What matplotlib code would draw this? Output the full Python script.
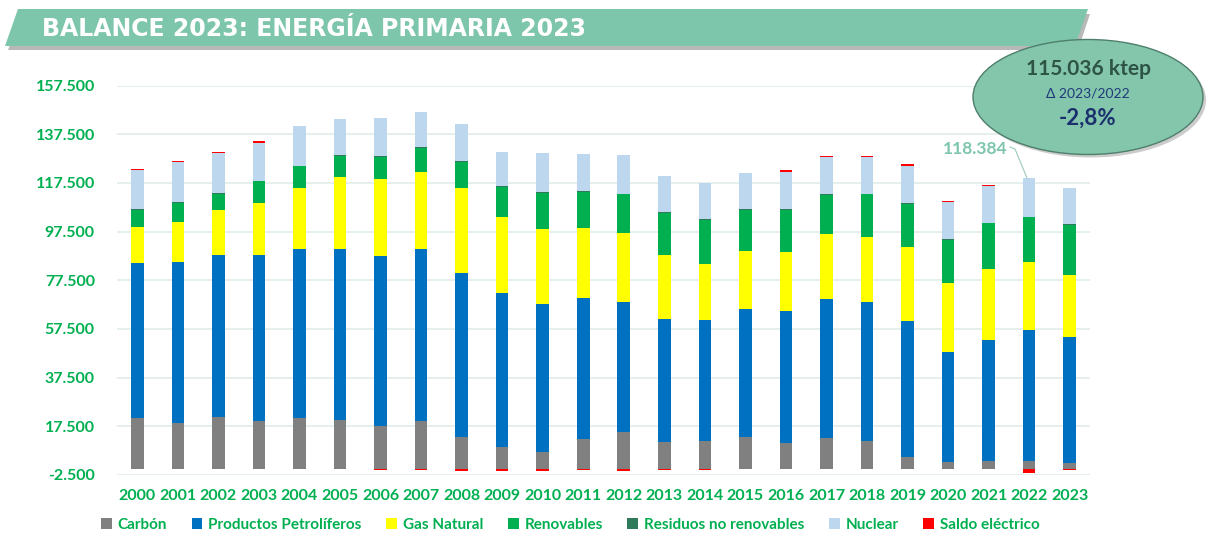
import numpy as np
import matplotlib
matplotlib.use("Agg")
import matplotlib.pyplot as plt
from matplotlib.patches import Polygon, Ellipse, Patch

plt.rcParams['font.family'] = ['Lato', 'DejaVu Sans']

# data (ktep)
years = [str(y) for y in range(2000, 2024)]
carbon = [20800, 19000, 21200, 19800, 20800, 20100, 17700, 19800, 13300, 9200, 7100, 12300,
          15300, 11200, 11500, 13300, 10500, 12600, 11500, 4800, 2900, 3200, 3300, 2600]
petroleo = [63700, 66000, 66600, 68200, 69700, 70400, 69800, 70400, 67300, 63200, 60700, 58100,
            53300, 50500, 49600, 52400, 54300, 57200, 57100, 56000, 45300, 49800, 53800, 51700]
gas = [15000, 16300, 18600, 21100, 25000, 29500, 31600, 31900, 34900, 31000, 30600, 28400,
       28200, 26100, 23200, 24000, 24400, 26700, 26700, 30500, 28200, 29000, 27900, 25400]
renovables = [7000, 7900, 6500, 9000, 8800, 8500, 9100, 9800, 10700, 12500, 14900, 14900,
              16000, 17400, 18100, 16800, 17300, 16000, 17500, 17600, 17600, 18900, 18300, 20600]
residuos = [300] * 24
nuclear = [16000, 16500, 16400, 15600, 16300, 14900, 15500, 14300, 15200, 13900, 16300, 15200,
           16000, 15000, 14800, 14800, 15200, 15200, 14900, 15200, 15500, 14900, 15800, 14700]
saldo = [400, 400, 400, 600, 0, 0, -300, -500, -1000, -700, -700, -500,
         -1000, -600, -300, -100, 700, 700, 500, 700, 400, 400, -1500, -600]

series = [
    ('Carbón', carbon, '#808080'),
    ('Productos Petrolíferos', petroleo, '#0070C0'),
    ('Gas Natural', gas, '#FFFF00'),
    ('Renovables', renovables, '#00B050'),
    ('Residuos no renovables', residuos, '#2F7A5A'),
    ('Nuclear', nuclear, '#BDD7EE'),
    ('Saldo eléctrico', saldo, '#FF0000'),
]

green_txt = '#00B050'

fig = plt.figure(figsize=(12.06, 5.36), dpi=100)
ax = fig.add_axes([117 / 1206, 1 - 475 / 536, (1090 - 117) / 1206, (475 - 85.5) / 536])

x = np.arange(len(years))
pos_bottom = np.zeros(len(years))
neg_bottom = np.zeros(len(years))
for name, vals, col in series:
    v = np.array(vals, dtype=float)
    b = np.where(v >= 0, pos_bottom, neg_bottom)
    ax.bar(x, v, bottom=b, width=0.31, color=col, edgecolor='none', zorder=3)
    pos_bottom += np.where(v >= 0, v, 0)
    neg_bottom += np.where(v < 0, v, 0)

ax.set_xlim(-0.5, 23.5)
ax.set_ylim(-2500, 157500)
yt = np.arange(-2500, 157501, 20000)
ax.set_yticks(yt)
ax.set_yticklabels([f'{v:,}'.replace(',', '.') for v in yt])
ax.set_xticks(x)
ax.set_xticklabels(years)
ax.grid(axis='y', color='#E3EEEA', linewidth=1.3, zorder=0)
for s in ax.spines.values():
    s.set_visible(False)
ax.tick_params(axis='both', length=0, colors=green_txt, labelsize=11.5)
ax.tick_params(axis='y', pad=16)
ax.tick_params(axis='x', pad=10)
for lab in ax.get_xticklabels() + ax.get_yticklabels():
    lab.set_fontweight('bold')

# legend
handles = [Patch(facecolor=c, edgecolor='none') for _, _, c in series]
leg = fig.legend(handles, [n for n, _, _ in series], loc='center', ncol=7,
                 bbox_to_anchor=(0.473, 1 - 525 / 536), frameon=False,
                 handlelength=0.7, handleheight=0.7, handletextpad=0.4, columnspacing=1.6,
                 prop={'size': 11, 'weight': 'bold'})
for t in leg.get_texts():
    t.set_color(green_txt)

# overlay for banner, ellipse and annotation
ov = fig.add_axes([0, 0, 1, 1], zorder=5)
ov.set_xlim(0, 1206)
ov.set_ylim(536, 0)
ov.axis('off')

shadow = Polygon([[8, 50], [1078, 50], [1090, 14], [22, 14]], closed=True,
                 facecolor='#8a8a8a', edgecolor='none', alpha=0.6)
ov.add_patch(shadow)
banner = Polygon([[5, 46], [1075, 46], [1088, 9], [18, 9]], closed=True,
                 facecolor='#7DC5AB', edgecolor='none')
ov.add_patch(banner)
ov.text(42, 29, 'BALANCE 2023: ENERGÍA PRIMARIA 2023', color='white', fontsize=17,
        fontweight='bold', va='center', ha='left', family='DejaVu Sans')

ell_shadow = Ellipse((1091, 100), 230, 115, facecolor='#9a9a9a', edgecolor='none', alpha=0.5)
ov.add_patch(ell_shadow)
ell = Ellipse((1088, 97), 230, 115, facecolor='#84C6AB', edgecolor='#4E7F6C', linewidth=1)
ov.add_patch(ell)
ov.text(1088, 69, '115.036 ktep', color='#2D5446', fontsize=15, fontweight='bold',
        ha='center', va='center')
ov.text(1088, 94, 'Δ 2023/2022', color='#1F3A7A', fontsize=10, ha='center', va='center')
ov.text(1088, 118, '-2,8%', color='#1A2F6E', fontsize=16, fontweight='bold',
        ha='center', va='center')

ov.text(975, 149, '118.384', color='#7DC5AB', fontsize=12.5, fontweight='bold',
        ha='center', va='center')
ov.plot([1010, 1015, 1027], [147, 149, 178], color='#9ACBB8', linewidth=0.8)

fig.savefig('out.png', dpi=100, facecolor='white')
